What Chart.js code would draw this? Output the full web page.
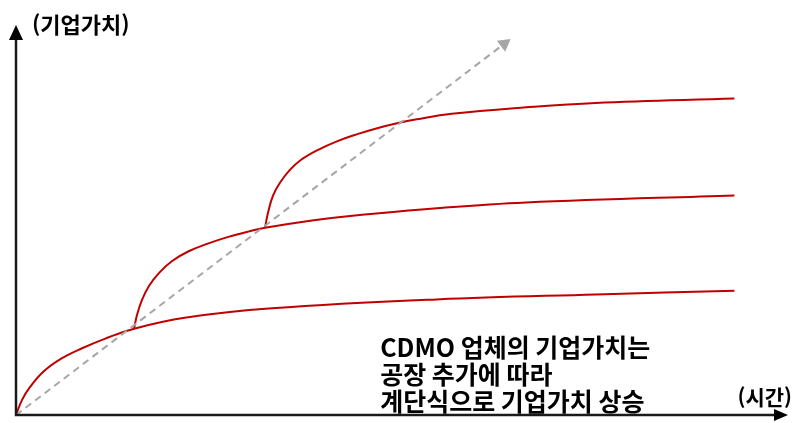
<!DOCTYPE html>
<html lang="ko">
<head>
<meta charset="utf-8">
<title>CDMO 기업가치</title>
<script src="https://cdn.jsdelivr.net/npm/chart.js@4.4.1/dist/chart.umd.min.js"></script>
<style>
  html, body { margin: 0; padding: 0; background: #fff; }
  #wrap { width: 796px; height: 423px; position: relative; }
</style>
</head>
<body>
<div id="wrap"><canvas id="stepChart"></canvas></div>
<script>
// --- 데이터 (시간, 기업가치) ---
const plant1Time  = [0, 6, 14, 28, 46, 66, 90, 119, 170, 258, 424, 584, 724];
const plant1Value = [0, 15, 28, 44, 57, 67, 77, 87, 98, 107.5, 116.5, 121.5, 125.3];

const plant2Time  = [119, 122, 127, 134, 144, 157, 174, 194, 214, 234, 251, 300, 339, 424, 514, 724];
const plant2Value = [87, 101, 116, 130, 143, 155, 165, 173, 179.5, 184.8, 188.6, 196.2, 200.8, 208.4, 214.2, 221.3];

const plant3Time  = [251, 254, 259, 266, 276, 287, 304, 324, 344, 364, 384, 404, 439, 514, 584, 724];
const plant3Value = [188.6, 204, 221, 234, 247, 257, 267, 276, 283, 289, 294, 298, 303.5, 310, 314.5, 319];

const trendTime  = [0, 492];
const trendValue = [0, 374];

const xMax = 778;
const yMax = 393;

const yTitle = '(기업가치)';
const xTitle = '(시간)';
const noteLines = ['CDMO 업체의 기업가치는', '공장 추가에 따라', '계단식으로 기업가치 상승'];

const red = '#c00000';
const gray = '#a6a6a6';
const font = '"Noto Sans CJK KR", "Noto Sans", sans-serif';

function toPoints(xs, ys) {
    return xs.map((x, i) => ({ x: x, y: ys[i] }));
}

function curve(xs, ys) {
    return {
        data: toPoints(xs, ys),
        borderColor: red,
        borderWidth: 2,
        pointRadius: 0,
        fill: false,
        tension: 0.4
    };
}

// 축 화살표 + 텍스트
const axesPlugin = {
    id: 'axesPlugin',
    afterDatasetsDraw(chart) {
        const { ctx, chartArea: a, scales } = chart;
        ctx.save();
        ctx.strokeStyle = '#1a1a1a';
        ctx.fillStyle = '#000';
        ctx.lineWidth = 2.5;
        ctx.beginPath();
        ctx.moveTo(a.left, a.top + 10);
        ctx.lineTo(a.left, a.bottom);
        ctx.lineTo(a.right - 10, a.bottom);
        ctx.stroke();

        // y 화살표
        ctx.beginPath();
        ctx.moveTo(a.left, a.top);
        ctx.lineTo(a.left - 7, a.top + 15);
        ctx.lineTo(a.left + 7, a.top + 15);
        ctx.closePath();
        ctx.fill();
        // x 화살표
        ctx.beginPath();
        ctx.moveTo(a.right, a.bottom);
        ctx.lineTo(a.right - 14, a.bottom - 6);
        ctx.lineTo(a.right - 14, a.bottom + 6);
        ctx.closePath();
        ctx.fill();

        ctx.fillStyle = '#000';
        ctx.textBaseline = 'middle';
        ctx.font = 'bold 22px ' + font;
        ctx.textAlign = 'left';
        ctx.fillText(yTitle, a.left + 16, a.top);
        ctx.font = 'bold 21px ' + font;
        ctx.textAlign = 'right';
        ctx.fillText(xTitle, a.right + 4, a.bottom - 18);

        ctx.textAlign = 'left';
        ctx.font = 'bold 25px ' + font;
        const tx = scales.x.getPixelForValue(367);
        noteLines.forEach((line, i) => {
            ctx.fillText(line, tx, a.bottom - 68 + i * 27);
        });
        ctx.restore();
    }
};

const trend = {
    data: toPoints(trendTime, trendValue),
    borderColor: gray,
    borderWidth: 2,
    borderDash: [7, 5],
    fill: false,
    tension: 0,
    pointStyle: 'triangle',
    pointRotation: 53,
    pointRadius: ctx => ctx.dataIndex === trendTime.length - 1 ? 8 : 0,
    pointBackgroundColor: gray,
    pointBorderWidth: 0
};

new Chart(document.getElementById('stepChart'), {
    type: 'line',
    data: {
        datasets: [trend, curve(plant1Time, plant1Value), curve(plant2Time, plant2Value), curve(plant3Time, plant3Value)]
    },
    options: {
        responsive: true,
        maintainAspectRatio: false,
        animation: false,
        layout: { padding: { left: 16, top: 25, right: 2, bottom: 5 } },
        plugins: { legend: { display: false }, tooltip: { enabled: false } },
        scales: {
            x: { type: 'linear', min: 0, max: xMax, display: false },
            y: { type: 'linear', min: 0, max: yMax, display: false }
        }
    },
    plugins: [axesPlugin]
});
</script>
</body>
</html>
